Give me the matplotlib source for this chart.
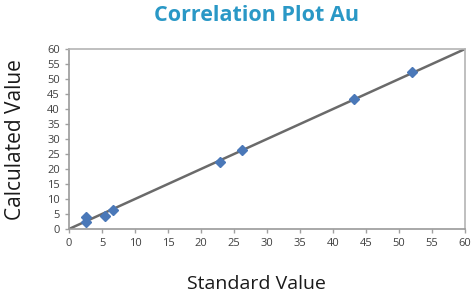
import matplotlib
matplotlib.use("Agg")
import matplotlib.pyplot as plt
import numpy as np

# Au correlation: standard vs calculated values, with 1:1 reference line
standard = [2.5, 2.5, 5.4, 6.6, 22.8, 26.2, 43.2, 52.0]
calculated = [4.1, 2.4, 4.4, 6.4, 22.2, 26.2, 43.4, 52.2]
x_err = [0.4, 0.4, 0.4, 0.4, 0.4, 0.4, 0.4, 0.4]
y_err = [1.2, 1.2, 1.0, 1.0, 0.8, 0.8, 1.2, 1.2]
ticks = list(range(0, 61, 5))


def main():
    plt.rcParams["font.family"] = ["Open Sans", "DejaVu Sans"]
    fig = plt.figure(figsize=(4.77, 2.97), dpi=100)
    ax = fig.add_axes([0.1447, 0.229, 0.8302, 0.606])

    ax.plot([0, 60], [0, 60], color="#6a6a6a", linewidth=1.8, zorder=2)
    ax.errorbar(standard, calculated, xerr=x_err, yerr=y_err, fmt="D",
                color="#4a78b8", markersize=5.5, elinewidth=1.8, capsize=0,
                zorder=3)

    ax.set_xlim(0, 60)
    ax.set_ylim(0, 60)
    ax.set_xticks(ticks)
    ax.set_yticks(ticks)
    ax.tick_params(colors="#a0a0a0", labelcolor="#404040", labelsize=8,
                   length=3, width=1)
    for sp in ax.spines.values():
        sp.set_color("#b4b4b4")
        sp.set_linewidth(1.2)
    ax.spines["left"].set_color("#9a9a9a")
    ax.spines["bottom"].set_color("#9a9a9a")

    fig.text(0.538, 0.948, "Correlation Plot Au", ha="center", va="center",
             fontsize=15.5, fontweight="bold", color="#2a98c6")
    fig.text(0.537, 0.045, "Standard Value", ha="center", va="center",
             fontsize=14, color="#1a1a1a")
    fig.text(0.032, 0.53, "Calculated Value", ha="center", va="center",
             rotation=90, fontsize=15, color="#1a1a1a")

    fig.savefig("out.png", dpi=100)
    plt.close(fig)


if __name__ == "__main__":
    main()
